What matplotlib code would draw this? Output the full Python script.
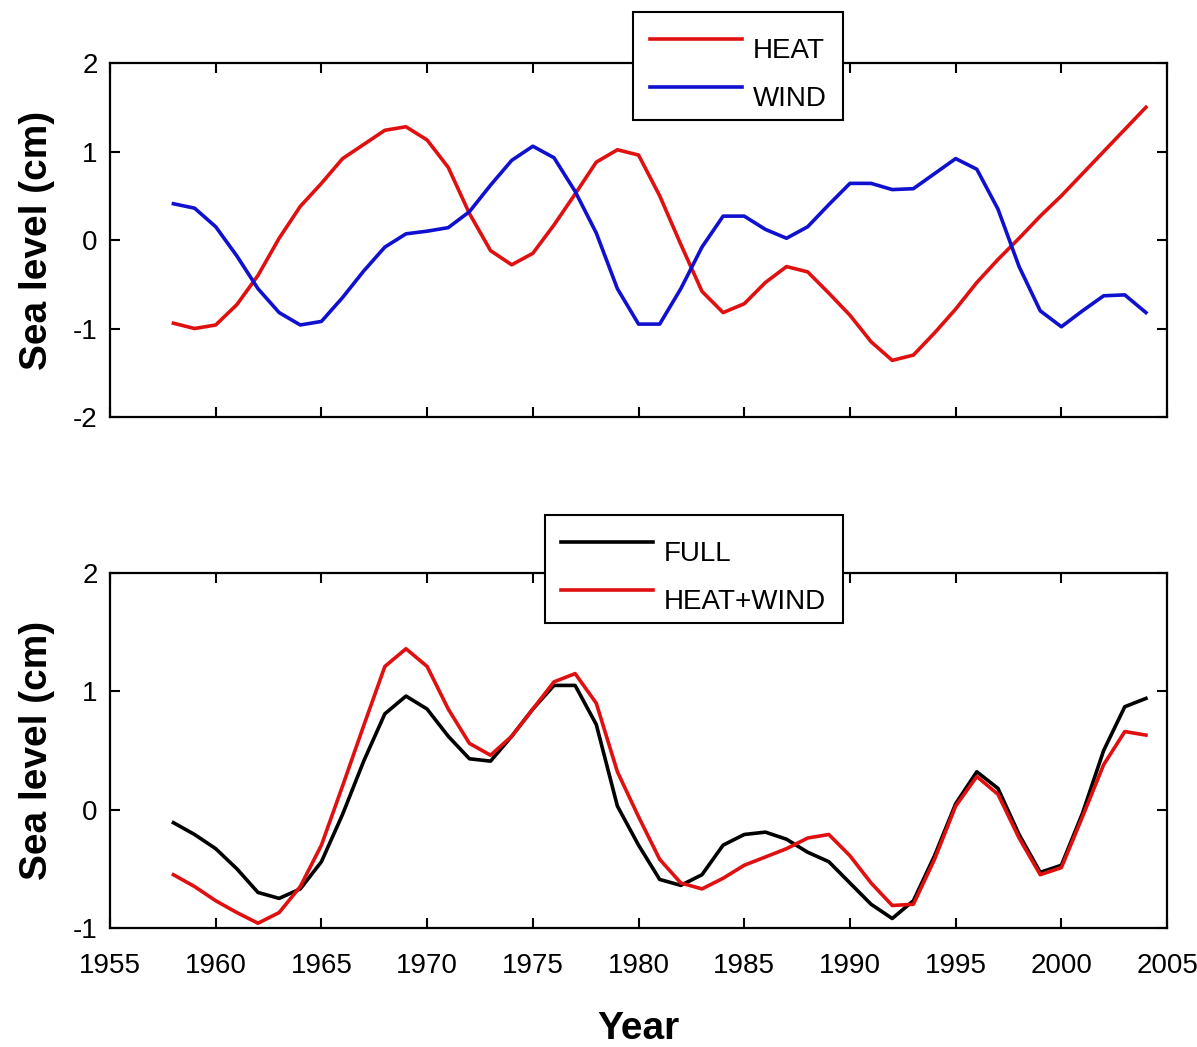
#!/usr/bin/env python3
"""Sea level anomaly: HEAT/WIND forcing components and FULL vs HEAT+WIND."""

import matplotlib

matplotlib.use("Agg")
import matplotlib.pyplot as plt
import numpy as np

YEARS = np.arange(1958, 2005)

HEAT = [
    -0.94, -1.00, -0.96, -0.73, -0.40, 0.02, 0.38, 0.64, 0.92, 1.08,
    1.24, 1.28, 1.13, 0.82, 0.30, -0.12, -0.28, -0.15, 0.17, 0.52,
    0.88, 1.02, 0.96, 0.50, -0.05, -0.58, -0.82, -0.72, -0.48, -0.30,
    -0.36, -0.60, -0.85, -1.15, -1.36, -1.30, -1.05, -0.78, -0.48, -0.22,
    0.02, 0.27, 0.50, 0.75, 1.00, 1.25, 1.50,
]
WIND = [
    0.41, 0.36, 0.15, -0.18, -0.55, -0.82, -0.96, -0.92, -0.65, -0.35,
    -0.08, 0.07, 0.10, 0.14, 0.32, 0.62, 0.90, 1.06, 0.93, 0.55,
    0.08, -0.55, -0.95, -0.95, -0.55, -0.08, 0.27, 0.27, 0.12, 0.02,
    0.15, 0.40, 0.64, 0.64, 0.57, 0.58, 0.75, 0.92, 0.80, 0.35,
    -0.30, -0.80, -0.98, -0.80, -0.63, -0.62, -0.82,
]
FULL = [
    -0.11, -0.21, -0.33, -0.50, -0.70, -0.75, -0.67, -0.44, -0.04, 0.41,
    0.81, 0.96, 0.85, 0.62, 0.43, 0.41, 0.62, 0.85, 1.05, 1.05,
    0.72, 0.03, -0.30, -0.59, -0.64, -0.55, -0.30, -0.21, -0.19, -0.25,
    -0.36, -0.44, -0.62, -0.80, -0.92, -0.77, -0.39, 0.05, 0.32, 0.18,
    -0.21, -0.53, -0.47, -0.03, 0.50, 0.87, 0.94,
]
HEAT_WIND = [
    -0.55, -0.65, -0.77, -0.87, -0.96, -0.87, -0.65, -0.30, 0.20, 0.71,
    1.21, 1.36, 1.21, 0.85, 0.56, 0.46, 0.62, 0.85, 1.08, 1.15,
    0.90, 0.32, -0.06, -0.42, -0.62, -0.67, -0.58, -0.47, -0.40, -0.33,
    -0.24, -0.21, -0.39, -0.62, -0.81, -0.80, -0.42, 0.03, 0.28, 0.13,
    -0.24, -0.55, -0.49, -0.06, 0.38, 0.66, 0.63,
]

X_TICKS = list(range(1955, 2010, 5))
TOP_Y_TICKS = [-2, -1, 0, 1, 2]
BOTTOM_Y_TICKS = [-1, 0, 1, 2]

RED = "#e01010"
BLUE = "#1010d0"

plt.rcParams["font.family"] = ["Liberation Sans", "DejaVu Sans"]
plt.rcParams["axes.unicode_minus"] = False


def style_axes(ax, yticks):
    ax.set_xlim(1955, 2005)
    ax.set_ylim(yticks[0], yticks[-1])
    ax.set_xticks(X_TICKS)
    ax.set_yticks(yticks)
    ax.tick_params(direction="in", length=7.5, width=1.5, top=True, right=True,
                   labelsize=20)
    ax.tick_params(axis="x", pad=18)
    ax.tick_params(axis="y", pad=9)
    for spine in ax.spines.values():
        spine.set_linewidth(1.6)
    ax.set_ylabel("Sea level (cm)", fontsize=28, fontweight="bold")
    ax.yaxis.set_label_coords(-0.052, 0.5)


def add_legend(ax, fig, anchor):
    leg = ax.legend(loc="upper left", bbox_to_anchor=anchor,
                    bbox_transform=fig.transFigure, fontsize=20,
                    handlelength=3.3, handletextpad=0.4, borderpad=0.6,
                    labelspacing=0.8, borderaxespad=0, fancybox=False,
                    framealpha=1, edgecolor="black")
    leg.get_frame().set_linewidth(1.5)
    leg.set_zorder(10)
    # labels sit a little below their line samples in the original
    for text in leg.get_texts():
        text.set_y(-9)


def main():
    fig = plt.figure(figsize=(11.97, 10.47), dpi=100)
    ax_top = fig.add_axes([0.0919, 0.6017, 0.8831, 0.3381])
    ax_bot = fig.add_axes([0.0919, 0.1137, 0.8831, 0.3390])

    ax_top.plot(YEARS, HEAT, color=RED, lw=2.6, label="HEAT")
    ax_top.plot(YEARS, WIND, color=BLUE, lw=2.6, label="WIND")
    style_axes(ax_top, TOP_Y_TICKS)
    ax_top.tick_params(axis="x", labelbottom=False)
    add_legend(ax_top, fig, (0.529, 0.9885))

    ax_bot.plot(YEARS, FULL, color="black", lw=2.6, label="FULL")
    ax_bot.plot(YEARS, HEAT_WIND, color=RED, lw=2.6, label="HEAT+WIND")
    style_axes(ax_bot, BOTTOM_Y_TICKS)
    ax_bot.set_xlabel("Year", fontsize=28, fontweight="bold")
    ax_bot.xaxis.set_label_coords(0.5, -0.235)
    add_legend(ax_bot, fig, (0.455, 0.508))

    fig.savefig("out.png", dpi=100)


if __name__ == "__main__":
    main()
